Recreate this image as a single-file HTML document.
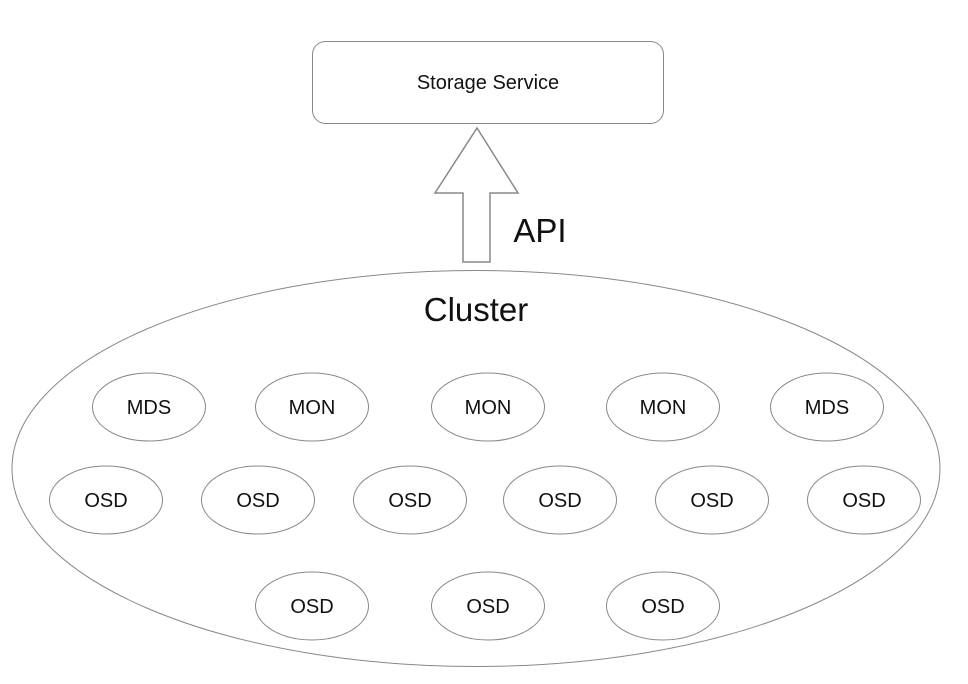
<!DOCTYPE html>
<html><head><meta charset="utf-8"><style>
html,body{margin:0;padding:0;background:#fff;}
svg{display:block}
text{font-family:"Liberation Sans",sans-serif;fill:#111;}
</style></head><body>
<svg width="968" height="684" viewBox="0 0 968 684" xmlns="http://www.w3.org/2000/svg">
<rect x="312.5" y="41.5" width="351" height="82" rx="13" fill="#fff" stroke="#888" stroke-width="1"/>
<text x="488" y="89" font-size="20" text-anchor="middle">Storage Service</text>
<polygon points="477,128 518,193 490,193 490,262 463,262 463,193 435,193" fill="#fff" stroke="#888" stroke-width="1.5"/>
<text x="540" y="242" font-size="33" text-anchor="middle">API</text>
<ellipse cx="476" cy="468.5" rx="464" ry="198" fill="none" stroke="#888" stroke-width="1"/>
<text x="476" y="321" font-size="33" text-anchor="middle">Cluster</text>
<g fill="#fff" stroke="#888" stroke-width="1">
<ellipse cx="149" cy="407" rx="56.5" ry="34"/>
<ellipse cx="312" cy="407" rx="56.5" ry="34"/>
<ellipse cx="488" cy="407" rx="56.5" ry="34"/>
<ellipse cx="663" cy="407" rx="56.5" ry="34"/>
<ellipse cx="827" cy="407" rx="56.5" ry="34"/>
<ellipse cx="106" cy="500" rx="56.5" ry="34"/>
<ellipse cx="258" cy="500" rx="56.5" ry="34"/>
<ellipse cx="410" cy="500" rx="56.5" ry="34"/>
<ellipse cx="560" cy="500" rx="56.5" ry="34"/>
<ellipse cx="712" cy="500" rx="56.5" ry="34"/>
<ellipse cx="864" cy="500" rx="56.5" ry="34"/>
<ellipse cx="312" cy="606" rx="56.5" ry="34"/>
<ellipse cx="488" cy="606" rx="56.5" ry="34"/>
<ellipse cx="663" cy="606" rx="56.5" ry="34"/>
</g>
<g font-size="20" text-anchor="middle">
<text x="149" y="414">MDS</text>
<text x="312" y="414">MON</text>
<text x="488" y="414">MON</text>
<text x="663" y="414">MON</text>
<text x="827" y="414">MDS</text>
<text x="106" y="507">OSD</text>
<text x="258" y="507">OSD</text>
<text x="410" y="507">OSD</text>
<text x="560" y="507">OSD</text>
<text x="712" y="507">OSD</text>
<text x="864" y="507">OSD</text>
<text x="312" y="613">OSD</text>
<text x="488" y="613">OSD</text>
<text x="663" y="613">OSD</text>
</g>
</svg>
</body></html>
